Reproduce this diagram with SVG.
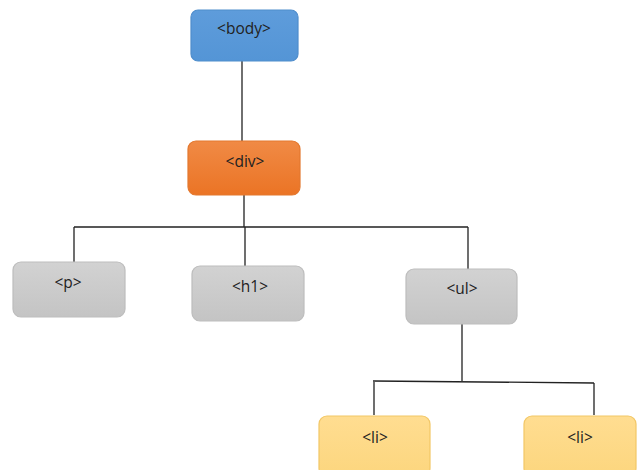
<svg xmlns="http://www.w3.org/2000/svg" width="641" height="470" viewBox="0 0 641 470">
<defs>
<linearGradient id="gBlue" x1="0" y1="0" x2="0" y2="1"><stop offset="0" stop-color="#5E9CDB"/><stop offset="1" stop-color="#5495D6"/></linearGradient>
<linearGradient id="gOrange" x1="0" y1="0" x2="0" y2="1"><stop offset="0" stop-color="#F08A45"/><stop offset="1" stop-color="#EB7425"/></linearGradient>
<linearGradient id="gGray" x1="0" y1="0" x2="0" y2="1"><stop offset="0" stop-color="#D2D2D2"/><stop offset="1" stop-color="#C4C4C4"/></linearGradient>
<linearGradient id="gYellow" x1="0" y1="0" x2="0" y2="1"><stop offset="0" stop-color="#FFDD91"/><stop offset="1" stop-color="#FCD67E"/></linearGradient>
</defs>
<style>
.box{stroke-width:1.2}
.blue{fill:url(#gBlue);stroke:#4F8DCC}
.orange{fill:url(#gOrange);stroke:#E3782F}
.gray{fill:url(#gGray);stroke:#BDBDBD}
.yellow{fill:url(#gYellow);stroke:#F2C766}
.lbl{font-family:"Open Sans","Liberation Sans",sans-serif;font-size:15.5px;fill:#222;text-anchor:middle}
.conn{stroke:#222;stroke-width:1.3;fill:none}
</style>
<rect width="641" height="470" fill="#fff"/>
<g id="connectors">
<path class="conn" d="M242 61V141"/>
<path class="conn" d="M244 195V227M74 227H468M74 227V262M245 227V266M468 227V269"/>
<path class="conn" d="M462 324V381M373 381L594 383M374 381V415M594 383V415"/>
</g>
<g id="body"><rect class="box blue" x="191" y="10" width="107" height="51" rx="7"/><text class="lbl" x="244" y="34">&lt;body&gt;</text></g>
<g id="div"><rect class="box orange" x="188" y="141" width="112" height="54" rx="8"/><text class="lbl" x="245" y="167">&lt;div&gt;</text></g>
<g id="p"><rect class="box gray" x="13" y="262" width="112" height="55" rx="8"/><text class="lbl" x="68" y="288">&lt;p&gt;</text></g>
<g id="h1"><rect class="box gray" x="192" y="266" width="112" height="55" rx="8"/><text class="lbl" x="250" y="292">&lt;h1&gt;</text></g>
<g id="ul"><rect class="box gray" x="406" y="269" width="111" height="55" rx="8"/><text class="lbl" x="462" y="294">&lt;ul&gt;</text></g>
<g id="li1"><rect class="box yellow" x="319" y="416" width="111" height="60" rx="8"/><text class="lbl" x="375" y="443">&lt;li&gt;</text></g>
<g id="li2"><rect class="box yellow" x="524" y="416" width="112" height="60" rx="8"/><text class="lbl" x="580" y="443">&lt;li&gt;</text></g>
</svg>
